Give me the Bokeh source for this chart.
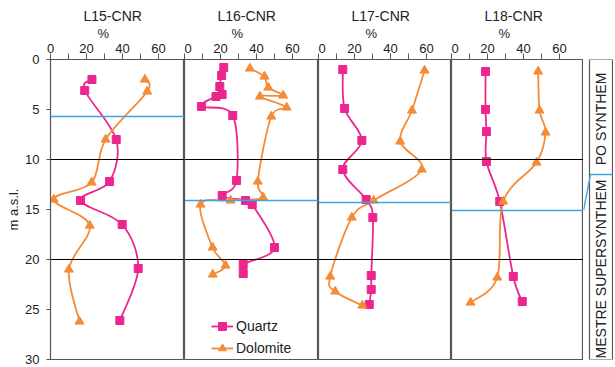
import math
from bokeh.plotting import figure
from bokeh.layouts import row
from bokeh.models import Range1d, FixedTicker, Span, Label, Legend, LegendItem, Title
from bokeh.embed import file_html
from bokeh.resources import INLINE

# ---------------- data ----------------
wells = ["L15-CNR", "L16-CNR", "L17-CNR", "L18-CNR"]
depth_ticks = [0, 5, 10, 15, 20, 25, 30]
pct_ticks = [0, 20, 40, 60]
pct_minor = [10, 30, 50]
grid_depths = [10, 20]
depth_label = "m a.s.l."

l15_qz_x = [23.0, 19.0, 36.5, 32.8, 16.7, 39.8, 48.7, 38.5]
l15_qz_y = [2.0, 3.1, 8.0, 12.2, 14.1, 16.5, 20.9, 26.1]
l15_do_x = [52.4, 53.7, 30.6, 22.8, 1.8, 21.8, 10.2, 16.1]
l15_do_y = [2.0, 3.2, 8.0, 12.3, 14.0, 16.6, 21.0, 26.2]

l16_qz_x = [21.8, 20.6, 19.6, 20.9, 17.5, 9.4, 26.8, 28.9, 20.9, 33.9, 37.6, 50.0, 32.6, 32.6]
l16_qz_y = [0.8, 1.6, 2.7, 3.5, 3.7, 4.7, 5.6, 12.1, 13.6, 14.1, 14.5, 18.8, 20.5, 21.4]
l16_do_x = [36.3, 44.4, 46.5, 54.8, 41.9, 56.7, 48.2, 40.7, 43.7, 25.6, 8.9, 15.6, 22.8, 15.7]
l16_do_y = [0.9, 1.7, 2.8, 3.6, 3.7, 4.8, 5.7, 12.2, 13.8, 14.1, 14.5, 18.8, 20.6, 21.5]

l17_qz_x = [13.5, 14.5, 24.1, 13.5, 26.5, 30.2, 29.3, 29.3, 28.2]
l17_qz_y = [1.0, 4.9, 8.1, 11.0, 14.0, 15.8, 21.6, 23.0, 24.5]
l17_do_x = [58.9, 51.9, 45.4, 57.4, 30.6, 18.5, 6.5, 9.3, 24.4]
l17_do_y = [1.1, 5.1, 8.2, 11.0, 14.1, 15.8, 21.7, 23.2, 24.6]

l18_qz_x = [18.9, 18.9, 19.4, 19.4, 26.8, 34.3, 39.3]
l18_qz_y = [1.2, 5.0, 7.2, 10.2, 14.2, 21.7, 24.2]
l18_do_x = [48.1, 48.9, 52.2, 47.2, 28.7, 25.4, 10.6]
l18_do_y = [1.2, 5.1, 7.3, 10.3, 14.2, 21.8, 24.3]

quartz_x = [l15_qz_x, l16_qz_x, l17_qz_x, l18_qz_x]
quartz_y = [l15_qz_y, l16_qz_y, l17_qz_y, l18_qz_y]
dolo_x = [l15_do_x, l16_do_x, l17_do_x, l18_do_x]
dolo_y = [l15_do_y, l16_do_y, l17_do_y, l18_do_y]

# unit boundary (PO synthem / Mestre supersynthem) depth in each well
boundary_depth = [5.7, 14.1, 14.3, 15.1]
boundary_in_column = 11.5
units = ["PO  SYNTHEM", "MESTRE  SUPERSYNTHEM"]

# ---------------- style ----------------
FONT = "Liberation Sans"
QZ = "#EC268F"
DO = "#F58B36"
BLUE = "#3AA7DE"
FRAME = "#555555"
TXT = "#222222"
X_END = [74.4, 74.4, 73.9, 73.3]
FW = [134, 134, 133, 132]
FH = 300
TOP = 59
BOT = 8


def smooth(xs, ys):
    """Catmull-Rom style cubic Bezier control points through the read points."""
    n = len(xs)
    out = dict(x0=[], y0=[], x1=[], y1=[], cx0=[], cy0=[], cx1=[], cy1=[])
    for i in range(n - 1):
        a = i - 1 if i > 0 else i
        d = i + 2 if i + 2 < n else i + 1
        out["x0"].append(xs[i]); out["y0"].append(ys[i])
        out["x1"].append(xs[i + 1]); out["y1"].append(ys[i + 1])
        out["cx0"].append(xs[i] + (xs[i + 1] - xs[a]) / 6.0)
        out["cy0"].append(ys[i] + (ys[i + 1] - ys[a]) / 6.0)
        out["cx1"].append(xs[i + 1] - (xs[d] - xs[i]) / 6.0)
        out["cy1"].append(ys[i + 1] - (ys[d] - ys[i]) / 6.0)
    return out


def text_label(x, y, text, size="13px", angle=0.0):
    return Label(x=x, y=y, text=text, angle=angle, text_align="center", text_baseline="middle",
                 text_font=FONT, text_font_size=size, text_color=TXT)


figs = []
for k in range(4):
    p = figure(frame_width=FW[k], frame_height=FH,
               x_range=Range1d(0, X_END[k]), y_range=Range1d(30, 0),
               x_axis_location="above",
               y_axis_location="left" if k == 0 else None,
               output_backend="svg", toolbar_location=None,
               min_border_left=50 if k == 0 else 0, min_border_right=0,
               min_border_top=TOP, min_border_bottom=BOT)
    p.xgrid.visible = False
    p.ygrid.visible = False
    p.outline_line_color = FRAME
    p.outline_line_width = 1.2
    p.background_fill_color = "white"
    p.border_fill_color = "white"

    ax = p.xaxis[0]
    ax.ticker = FixedTicker(ticks=pct_ticks, minor_ticks=pct_minor)
    ax.major_tick_out = 6
    ax.minor_tick_out = 6
    ax.major_tick_in = 0
    ax.minor_tick_in = 0
    ax.major_tick_line_color = FRAME
    ax.minor_tick_line_color = FRAME
    ax.axis_line_color = FRAME
    ax.major_label_text_font = FONT
    ax.major_label_text_font_size = "13px"
    ax.major_label_text_color = TXT
    ax.major_label_standoff = 1

    if k == 0:
        ay = p.yaxis[0]
        ay.ticker = FixedTicker(ticks=depth_ticks)
        ay.major_tick_out = 4
        ay.major_tick_in = 0
        ay.minor_tick_line_color = None
        ay.major_tick_line_color = FRAME
        ay.axis_line_color = FRAME
        ay.major_label_text_font = FONT
        ay.major_label_text_font_size = "13px"
        ay.major_label_text_color = TXT
        ay.major_label_standoff = 7
        ay.axis_label = depth_label
        ay.axis_label_text_font = FONT
        ay.axis_label_text_font_style = "normal"
        ay.axis_label_text_font_size = "13px"
        ay.axis_label_text_color = TXT
        ay.axis_label_standoff = 1

    # unit and well name, stacked above the percentage axis
    p.add_layout(Title(text="%", align="left", offset=47, standoff=0,
                       text_font=FONT, text_font_size="13px", text_font_style="normal",
                       text_color=TXT), "above")
    p.add_layout(Title(text=wells[k], align="left", offset=33, standoff=0,
                       text_font=FONT, text_font_size="14px", text_font_style="normal",
                       text_color=TXT), "above")

    for gd in grid_depths:
        p.add_layout(Span(location=gd, dimension="width", line_color="black", line_width=1.2))
    p.add_layout(Span(location=boundary_depth[k], dimension="width", line_color=BLUE, line_width=1.4))

    sq = smooth(quartz_x[k], quartz_y[k])
    sd = smooth(dolo_x[k], dolo_y[k])
    bq = p.bezier(line_color=QZ, line_width=1.8, **sq)
    bd = p.bezier(line_color=DO, line_width=1.8, **sd)
    mq = p.scatter(quartz_x[k], quartz_y[k], marker="square", size=8, color=QZ)
    md = p.scatter(dolo_x[k], dolo_y[k], marker="triangle", size=9, color=DO)
    if k == 1:
        legend = Legend(items=[LegendItem(label="Quartz", renderers=[bq, mq]),
                               LegendItem(label="Dolomite", renderers=[bd, md])],
                        location=(27, 1), margin=0, padding=4, spacing=2,
                        glyph_width=22, glyph_height=20, label_height=20,
                        label_text_font=FONT, label_text_font_size="14px",
                        label_text_color=TXT, label_standoff=3,
                        background_fill_alpha=0, border_line_color=None)
        p.add_layout(legend)
    figs.append(p)

# stratigraphic column on the right
pb = figure(frame_width=30, frame_height=FH, x_range=Range1d(0, 30), y_range=Range1d(30, 0),
            x_axis_location=None, y_axis_location=None,
            output_backend="svg", toolbar_location=None,
            min_border_left=0, min_border_right=0, min_border_top=TOP, min_border_bottom=BOT)
pb.xgrid.visible = False
pb.ygrid.visible = False
pb.outline_line_color = None
pb.quad(left=[6], right=[29], top=[0], bottom=[30], fill_color=None, line_color=FRAME, line_width=1.2)
pb.line([0, 7, 29], [boundary_depth[3], boundary_in_column, boundary_in_column], line_color=BLUE, line_width=1.4)
pb.add_layout(text_label(17.5, boundary_in_column / 2, units[0], size="14px", angle=math.pi / 2))
pb.add_layout(text_label(17.5, (boundary_in_column + 30) / 2, units[1], size="14px", angle=math.pi / 2))

layout = row(*figs, pb)
open("out.html", "w").write(file_html(layout, INLINE))
